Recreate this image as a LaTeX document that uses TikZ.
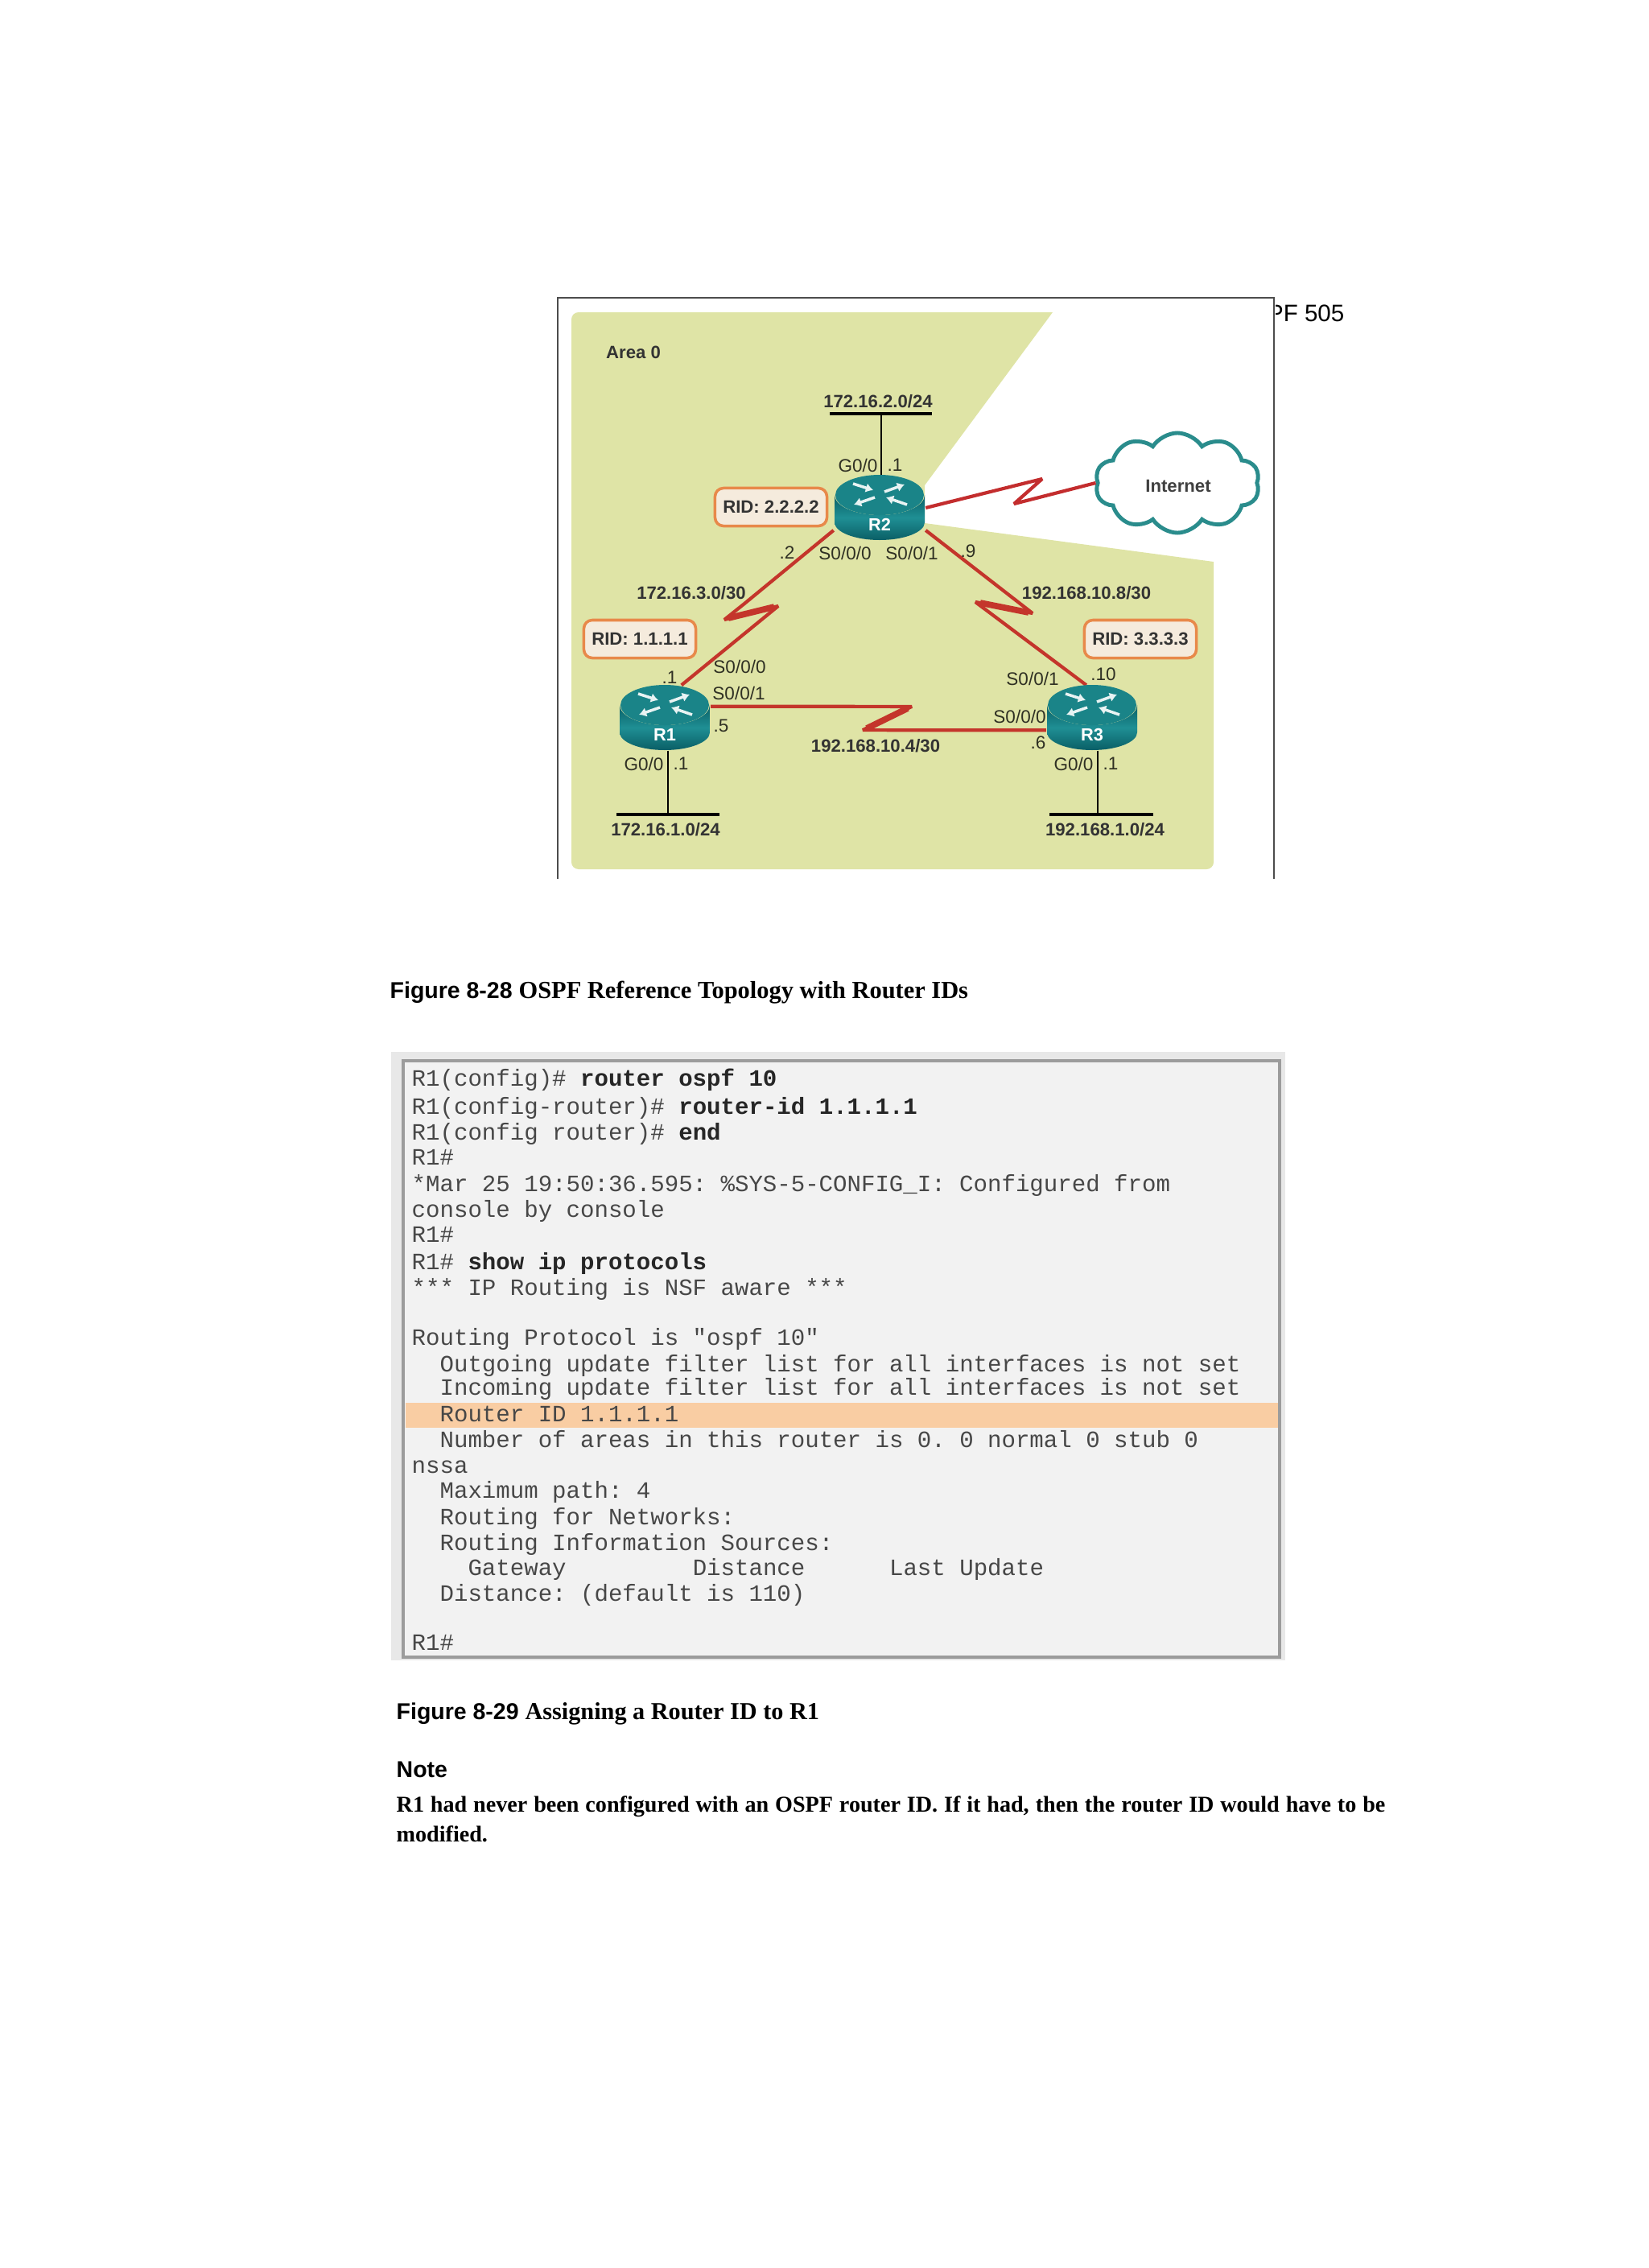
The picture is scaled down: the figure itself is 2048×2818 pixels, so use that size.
\documentclass[tikz,border=0pt]{standalone}
\usepackage{fontspec}
\setmainfont{Liberation Serif}
\setsansfont{Liberation Sans}
\setmonofont{Liberation Mono}
\usetikzlibrary{arrows.meta, shapes.symbols}
\definecolor{areagreen}{HTML}{DFE4A6}
\definecolor{linkred}{HTML}{C4352B}
\definecolor{ridorange}{HTML}{E8894A}
\definecolor{ridfill}{HTML}{F5EBDD}
\definecolor{routerdark}{HTML}{0A5F66}
\definecolor{routermid}{HTML}{1F8F94}
\definecolor{routertop}{HTML}{1A8488}
\definecolor{cloudteal}{HTML}{2A8C8C}
\definecolor{termfill}{HTML}{F2F2F2}
\definecolor{termedge}{HTML}{9C9C9C}
\definecolor{termhl}{HTML}{F9CDA3}
\newcommand{\cmdtxt}[1]{{\bfseries\color{black!85}#1}}
\tikzset{
  netlabel/.style={font=\sffamily\bfseries\fontsize{6.3}{7}\selectfont, text=black!80, inner sep=0pt},
  iflabel/.style={font=\sffamily\fontsize{6.4}{7}\selectfont, text=black!65!areagreen!60!black, inner sep=0pt},
  ridbox/.style={draw=ridorange, line width=1pt, fill=ridfill, rounded corners=3pt, minimum width=1.39cm, minimum height=0.47cm, inner sep=0pt, font=\sffamily\bfseries\fontsize{6.3}{7}\selectfont, text=black!80},
  router/.style={minimum width=1.13cm, minimum height=0.8cm, inner sep=0pt},
  routername/.style={font=\sffamily\bfseries\fontsize{6.2}{7}\selectfont, text=white, inner sep=0pt},
  routerarrow/.style={white!90!routertop, line width=1pt, -{Latex[length=2.6pt,width=3.4pt]}},
  serial/.style={linkred, line width=1.2pt, miter limit=4},
  bolt/.style={linkred, line width=2.2pt},
  lanline/.style={black, line width=0.7pt},
  lanbar/.style={black, line width=1.1pt},
  termline/.style={anchor=base west, inner sep=0pt, font=\ttfamily\fontsize{8.27}{10}\selectfont, text=black!72},
  caption/.style={anchor=base west, inner sep=0pt, font=\fontsize{8.1}{10}\selectfont, text=black},
}
\begin{document}
\begin{tikzpicture}[x=0.01cm, y=-0.01cm]
\useasboundingbox (0,0) rectangle (2048,2818);
% area and frame
\fill[areagreen] (1000,388) [sharp corners] -- (1308,388) -- (1149,603) -- (1149,650) -- (1508,698) -- (1508,1060) [rounded corners=2.5pt] -- (1508,1080) -- (710,1080) -- (710,388) -- cycle;
\draw[black!70, line width=0.45pt] (693,1092) -- (693,370) -- (1583,370) -- (1583,1092);
\begin{scope}
\clip (1585,360) rectangle (1700,420);
\node[anchor=east, inner sep=0pt, font=\sffamily\fontsize{8.4}{10}\selectfont] (pagenum) at (1671,389) {PF 505};
\end{scope}
\node[netlabel, anchor=center] (area) at (787,438) {Area 0};
% router nodes and cloud
\node[router] (R1) at (826,892) {};
\node[router] (R2) at (1093,631) {};
\node[router] (R3) at (1357,892) {};
\node[cloud, cloud puffs=10, cloud puff arc=115, aspect=1.6, draw=cloudteal, fill=white, line width=1.4pt, minimum width=2.04cm, minimum height=1.24cm, inner sep=0pt] (inet) at (1463,600) {};
\node[netlabel, text=black!75] (inettext) at (1464,604) {Internet};
% serial links
\draw[serial] (R2.206) -- (925,750) -- (900,770) -- (967,753) -- (R1.63);
\draw[bolt] (905,768) -- (962,754);
\draw[serial] (R2.334) -- (1283,762) -- (1212,748) -- (R3.100);
\draw[bolt] (1278,761) -- (1218,749);
\draw[serial] (R1.14) -- (1133,877.9) -- (1072,907.1) -- (R3.195);
\draw[bolt] (1128,880) -- (1077,905);
\draw[serial, color=linkred!85!purple] (R2.0) -- (1295,595) -- (1260,626) -- (inet.west);
% router icons
\foreach \r in {R1,R2,R3}{
  \begin{scope}[shift={(\r.center)}]
  \shade[left color=routerdark, right color=routerdark, middle color=routermid, shading angle=0] (-56,-16) -- (-56,18) arc[start angle=180, end angle=0, x radius=56, y radius=22] -- (56,-16) arc[start angle=0, end angle=180, x radius=56, y radius=25] -- cycle;
  \fill[routertop] (0,-16) ellipse (55 and 25);
  \draw[routerarrow] (-33,-30) -- (-8,-22);
  \draw[routerarrow] (6,-20) -- (31,-29);
  \draw[routerarrow] (-6,-13) -- (-32,-4);
  \draw[routerarrow] (34,-4) -- (8,-13);
  \end{scope}
  \node[routername] (name\r) at ([yshift=-0.21cm]\r.center) {\r};
}
% lans
\coordinate (lan1) at (830,1012);
\coordinate (lan2) at (1095,514);
\coordinate (lan3) at (1364,1012);
\draw[lanline] (R1.south -| lan1) -- (lan1);
\draw[lanline] (R2.north -| lan2) -- (lan2);
\draw[lanline] (R3.south -| lan3) -- (lan3);
\draw[lanbar] (766,1012) -- (894,1012);
\draw[lanbar] (1031,514) -- (1158,514);
\draw[lanbar] (1304,1012) -- (1433,1012);
\node[netlabel] (net2) at (1091,499) {172.16.2.0/24};
\node[netlabel] (net1) at (827,1031) {172.16.1.0/24};
\node[netlabel] (net4) at (1373,1031) {192.168.1.0/24};
\node[netlabel] (net3) at (859,737) {172.16.3.0/30};
\node[netlabel] (net5) at (1350,737) {192.168.10.8/30};
\node[netlabel] (net6) at (1088,927) {192.168.10.4/30};
% router ids
\node[ridbox] (rid2) at (958,630) {RID: 2.2.2.2};
\node[ridbox] (rid1) at (795,794) {RID: 1.1.1.1};
\node[ridbox] (rid3) at (1417,794) {RID: 3.3.3.3};
% interface labels
\node[iflabel] (g2) at (1066,578) {G0/0};
\node[iflabel] (g2a) at (1112,578) {.1};
\node[iflabel] (s2a) at (978,687) {.2};
\node[iflabel] (s2) at (1050,687) {S0/0/0};
\node[iflabel] (s2b) at (1133,687) {S0/0/1};
\node[iflabel] (s2c) at (1203,685) {.9};
\node[iflabel] (s1) at (919,828) {S0/0/0};
\node[iflabel] (s1a) at (832,842) {.1};
\node[iflabel] (s1b) at (918,861) {S0/0/1};
\node[iflabel] (s1c) at (896,902) {.5};
\node[iflabel] (g1) at (800,949) {G0/0};
\node[iflabel] (g1a) at (846,949) {.1};
\node[iflabel] (s3) at (1283,843) {S0/0/1};
\node[iflabel] (s3a) at (1371,838) {.10};
\node[iflabel] (s3b) at (1267,890) {S0/0/0};
\node[iflabel] (s3c) at (1290,923) {.6};
\node[iflabel] (g3) at (1334,949) {G0/0};
\node[iflabel] (g3a) at (1380,949) {.1};
% captions
\node[caption] (cap28) at (484,1240) {\sffamily\bfseries Figure 8-28\ \rmfamily\fontsize{8.65}{10}\selectfont OSPF Reference Topology with Router IDs};
% terminal
\fill[black!9] (486,1307) rectangle (1597,2063);
\draw[termedge, line width=1.1pt, fill=termfill] (501,1318) rectangle (1590,2059);
\fill[termhl] (504,1743) rectangle (1588,1774);
\foreach \y/\txt [count=\i] in {
  1349/{R1(config)\# \cmdtxt{router ospf 10}},
  1384/{R1(config-router)\# \cmdtxt{router-id 1.1.1.1}},
  1416/{R1(config router)\# \cmdtxt{end}},
  1447/{R1\#},
  1480/{*Mar 25 19:50:36.595: \%SYS-5-CONFIG\_I: Configured from},
  1512/{console by console},
  1543/{R1\#},
  1577/{R1\# \cmdtxt{show ip protocols}},
  1609/{*** IP Routing is NSF aware ***},
  1671/{Routing Protocol is "ospf 10"},
  1704/{\ \ Outgoing update filter list for all interfaces is not set},
  1733/{\ \ Incoming update filter list for all interfaces is not set},
  1766/{\ \ Router ID 1.1.1.1},
  1798/{\ \ Number of areas in this router is 0. 0 normal 0 stub 0},
  1830/{nssa},
  1861/{\ \ Maximum path: 4},
  1894/{\ \ Routing for Networks:},
  1926/{\ \ Routing Information Sources:},
  1957/{\ \ \ \ Gateway\ \ \ \ \ \ \ \ \ Distance\ \ \ \ \ \ Last Update},
  1989/{\ \ Distance: (default is 110)},
  2050/{R1\#}}{
  \node[termline] (term\i) at (511,\y) {\txt};
}
\node[caption] (cap29) at (492,2136) {\sffamily\bfseries Figure 8-29\ \rmfamily\bfseries\fontsize{8.6}{10}\selectfont Assigning a Router ID to R1};
\node[caption, font=\sffamily\bfseries\fontsize{8.1}{10}\selectfont] (note) at (492,2208) {Note};
\node[anchor=north west, inner sep=0pt, text width=12.28cm, align=justify, font=\bfseries\fontsize{8}{10.5}\selectfont] (notetext) at (492,2231) {R1 had never been configured with an OSPF router ID. If it had, then the router ID would have to be modified.};
\end{tikzpicture}
\end{document}
